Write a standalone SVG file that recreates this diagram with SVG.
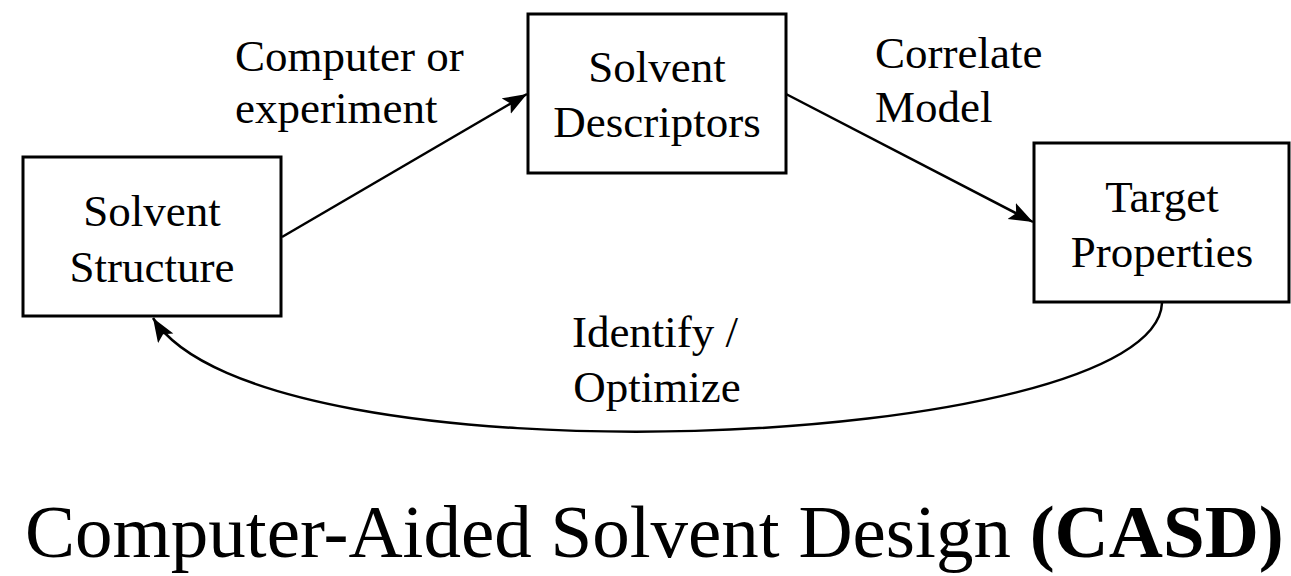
<svg xmlns="http://www.w3.org/2000/svg" width="1291" height="576" viewBox="0 0 1291 576">
<style>
.box{fill:#fff;stroke:#000;stroke-width:3}
.t{font-family:"Liberation Serif","Times New Roman",serif;font-size:45px;fill:#000;text-anchor:middle}
.lbl{font-family:"Liberation Serif","Times New Roman",serif;font-size:45px;fill:#000}
.conn{fill:none;stroke:#000;stroke-width:2.5}
.title{font-family:"Liberation Serif","Times New Roman",serif;font-size:75px;fill:#000}
</style>
<defs>
<marker id="ah" markerUnits="userSpaceOnUse" markerWidth="26" markerHeight="20" refX="24" refY="9" orient="auto">
<path d="M0,0 L24,9 L0,18 L5,9 Z" fill="#000"/>
</marker>
</defs>
<rect width="1291" height="576" fill="#fff"/>
<g id="connectors">
<line class="conn" x1="282" y1="237" x2="527" y2="94" marker-end="url(#ah)"/>
<line class="conn" x1="786" y1="94" x2="1033" y2="222" marker-end="url(#ah)"/>
<path class="conn" d="M1162,303 C1155,452 260,490 153,318" marker-end="url(#ah)"/>
</g>
<g id="node-structure">
<rect class="box" x="23" y="157" width="258" height="159"/>
<text class="t" x="152" y="226">Solvent</text>
<text class="t" x="152" y="282">Structure</text>
</g>
<g id="node-descriptors">
<rect class="box" x="528" y="14" width="258" height="159"/>
<text class="t" x="657" y="82">Solvent</text>
<text class="t" x="657" y="137">Descriptors</text>
</g>
<g id="node-target">
<rect class="box" x="1034" y="143" width="255" height="159"/>
<text class="t" x="1162" y="212">Target</text>
<text class="t" x="1162" y="267">Properties</text>
</g>
<g id="labels">
<text class="lbl" x="235" y="71">Computer or</text>
<text class="lbl" x="235" y="123">experiment</text>
<text class="lbl" x="875" y="68">Correlate</text>
<text class="lbl" x="875" y="122">Model</text>
<text class="t" x="655" y="347">Identify /</text>
<text class="t" x="657" y="402">Optimize</text>
</g>
<text class="title" x="25" y="557">Computer-Aided Solvent Design <tspan font-weight="bold">(CASD)</tspan></text>
</svg>
